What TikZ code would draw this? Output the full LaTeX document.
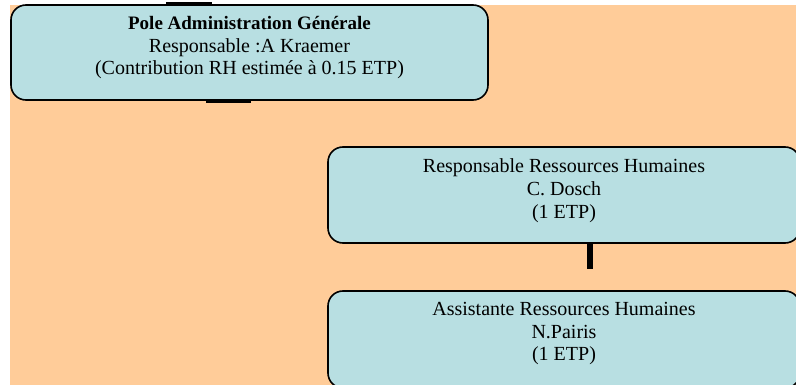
\documentclass[tikz,border=0pt]{standalone}
\usepackage{fontspec}
\setmainfont{Liberation Serif}
\definecolor{peach}{RGB}{255,204,153}
\definecolor{boxfill}{RGB}{184,223,226}
\newcommand{\uptext}[2]{\raisebox{#1}[\height][\depth]{\begin{tabular}{@{}c@{}}#2\end{tabular}}}
\begin{document}
\begin{tikzpicture}[x=1pt, y=1pt, main/.style = {draw, line width=1.6pt, fill=boxfill, rounded corners=15pt, inner sep=0pt, font=\fontsize{20}{22.8}\selectfont}, bar/.style = {line width=2.6pt}]
    \useasboundingbox (0,0) rectangle (796,-385);
    \clip (0,0) rectangle (796,-385);
    \fill[peach] (10,-5) rectangle (796,-385);
    \node[main, minimum width=477pt, minimum height=95pt] (1) at (249.5,-52.5) {\uptext{5pt}{{\fontsize{19}{22.8}\selectfont\bfseries Pole Administration Générale}\\Responsable :A Kraemer\\(Contribution RH estimée à 0.15 ETP)}};
    \node[main, minimum width=472pt, minimum height=96pt] (2) at (564,-195) {\uptext{4pt}{Responsable Ressources Humaines\\C. Dosch\\(1 ETP)}};
    \node[main, minimum width=472pt, minimum height=97pt] (3) at (564,-339.5) {\uptext{6pt}{Assistante Ressources Humaines\\N.Pairis\\(1 ETP)}};
    %stubs
    \coordinate (a) at (166,-3);
    \coordinate (b) at (212,-3);
    \coordinate (c) at (206,-101.5);
    \coordinate (d) at (251,-101.5);
    \coordinate (e) at (590,-269);
    \draw[bar] (a) to (b);
    \draw[bar] (c) to (d);
    \draw[line width=6pt] (2.south -| e) to (e);
\end{tikzpicture}
\end{document}
